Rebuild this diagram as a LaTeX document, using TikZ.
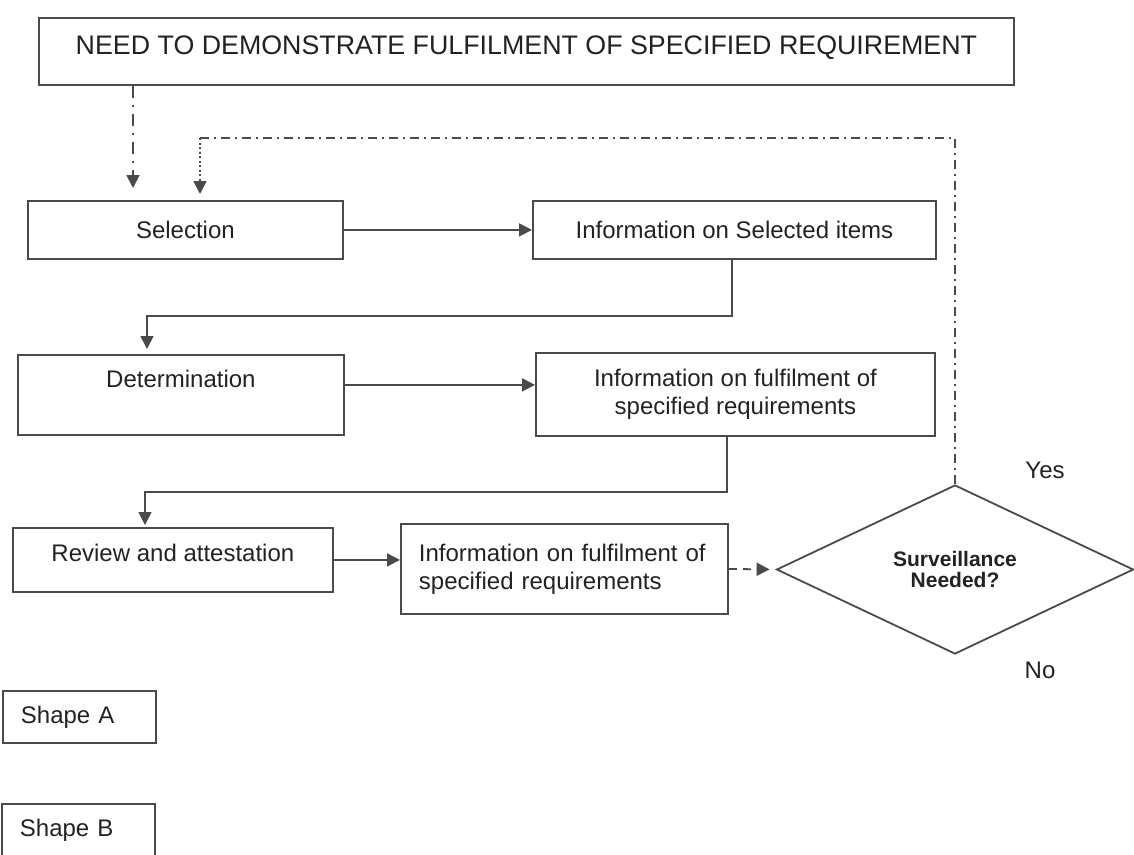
\documentclass[tikz,border=0pt]{standalone}
\usepackage{fontspec}
\setmainfont{Liberation Sans}
\usetikzlibrary{arrows.meta,shapes.geometric}
\definecolor{linegray}{HTML}{4A4A4A}
\definecolor{textgray}{HTML}{222222}
\begin{document}
\begin{tikzpicture}[x=1pt,y=-1pt,
  box/.style={draw=linegray, line width=1.8pt, rectangle, anchor=north west, inner sep=0pt,
    text=textgray, font=\fontsize{24}{28}\selectfont, align=center},
  lbl/.style={text=textgray, font=\fontsize{24}{28}\selectfont, inner sep=0pt},
  arr/.style={draw=linegray, line width=1.8pt, -{Triangle[length=13pt,width=13pt]}},
  dashdotline/.style={draw=linegray, line width=1.8pt, dash pattern=on 12pt off 7pt on 2pt off 7pt},
  fbline/.style={draw=linegray, line width=1.8pt, dash pattern=on 9pt off 5pt on 2pt off 5pt},
  dotline/.style={draw=linegray, line width=1.8pt, dash pattern=on 2pt off 2.5pt},
  dashline/.style={draw=linegray, line width=1.8pt, dash pattern=on 8pt off 6pt}
]
\useasboundingbox (0,0) rectangle (1134,854);
\clip (0,0) rectangle (1134,854);

% boxes
\node[box, minimum width=975pt, minimum height=67pt, font=\fontsize{26.8}{30}\selectfont,
  text height=37pt, text depth=30pt] (need) at (38,17)
  {NEED TO DEMONSTRATE FULFILMENT OF SPECIFIED REQUIREMENT};
\node[box, minimum width=315pt, minimum height=58pt] (sel) at (27,200) {Selection};
\node[box, minimum width=403pt, minimum height=58pt] (isel) at (532,200) {Information on Selected items};
\node[box, minimum width=326pt, minimum height=80pt, text height=33pt, text depth=47pt] (det) at (17,354) {Determination};
\node[box, minimum width=399pt, minimum height=83pt] (ifu) at (535,352) {Information on fulfilment of\\specified requirements};
\node[box, minimum width=320pt, minimum height=64pt, text height=34pt, text depth=30pt] (rev) at (12,527) {Review and attestation};
\node[box, minimum width=327pt, minimum height=90pt, align=left, text width=291pt] (ifu2) at (400,523)
  {Information on fulfilment of\\specified requirements};
\node[draw=linegray, line width=1.8pt, diamond, minimum width=357pt, minimum height=169pt, inner sep=0pt,
  aspect=2.1, font=\bfseries\fontsize{21}{21}\selectfont, align=center, text=textgray] (dia) at (955,569.5)
  {Surveillance\\Needed?};
\node[lbl] (yes) at (1045,470) {Yes};
\node[lbl] (no) at (1040,670) {No};
\node[box, minimum width=153pt, minimum height=52pt, align=left, text width=117pt] (shA) at (2,690) {Shape A};
\node[box, minimum width=153pt, minimum height=70pt, align=left, text width=117pt, text height=33pt, text depth=37pt] (shB) at (1,803) {Shape B};

% coordinates
\coordinate (c1) at (133,0);
\coordinate (fl) at (200,138);
\coordinate (e1) at (732,316);
\coordinate (e1l) at (147,316);
\coordinate (e2) at (727,492);
\coordinate (e2l) at (145,492);

% connectors
\draw[arr, dashdotline, shorten >=12pt] (need.south -| c1) -- (sel.north -| c1);
\draw[fbline] (dia.north) -- (dia.north |- fl) -- (fl);
\draw[arr, dotline, shorten >=6pt] (fl) -- (sel.north -| fl);
\draw[arr] (sel.east) -- (isel.west);
\draw[arr, shorten >=5pt] (isel.south -| e1) -- (e1) -- (e1l) -- (det.north -| e1l);
\draw[arr] ([yshift=10pt]det.east) -- ([yshift=10pt]det.east -| ifu.west);
\draw[arr, shorten >=2pt] (ifu.south -| e2) -- (e2) -- (e2l) -- (rev.north -| e2l);
\draw[arr] (rev.east) -- (rev.east -| ifu2.west);
\draw[arr, dashline, shorten >=6pt] (ifu2.east) -- (dia.west);
\end{tikzpicture}
\end{document}
